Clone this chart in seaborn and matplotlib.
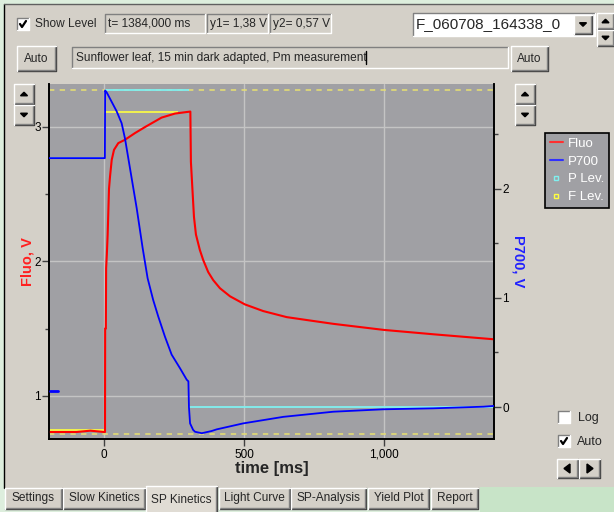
import matplotlib
matplotlib.use("Agg")
import matplotlib.pyplot as plt
import numpy as np
import pandas as pd
import seaborn as sns
from matplotlib.patches import Rectangle, Polygon
from matplotlib.lines import Line2D
from matplotlib.ticker import FixedLocator, FuncFormatter

# ---------------------------------------------------------------- data
# Chlorophyll fluorescence signal (left axis, V)
fluo_t = [-198, -150, -100, -50, 0, 2.5, 3, 5.5, 6.5, 9, 12, 16.8, 20.4, 26.5,
          34.7, 50, 74, 110, 146, 205, 253, 308, 310, 314, 321, 328, 342, 354,
          372, 390, 414, 450, 503, 569, 653, 736, 820, 1000, 1180, 1395]
fluo_v = [0.73, 0.73, 0.73, 0.74, 0.73, 0.73, 1.50, 1.50, 1.95, 2.05, 2.20,
          2.54, 2.63, 2.755, 2.83, 2.88, 2.905, 2.955, 3.00, 3.07, 3.10, 3.115,
          2.74, 2.59, 2.33, 2.20, 2.085, 2.01, 1.92, 1.86, 1.80, 1.74, 1.68,
          1.63, 1.585, 1.56, 1.535, 1.49, 1.457, 1.42]

# P700 absorbance signal (right axis, V)
p700_t = [-198, -100, 0, 2, 3, 9, 44, 62, 74, 95, 116, 137, 155, 175, 193,
          217, 241, 271, 295, 301, 303, 307, 318, 325, 349, 384, 402, 497,
          641, 820, 998, 1177, 1357, 1395]
p700_v = [2.28, 2.28, 2.28, 2.28, 2.90, 2.88, 2.71, 2.60, 2.46, 2.14, 1.82,
          1.46, 1.18, 0.98, 0.83, 0.645, 0.48, 0.355, 0.25, 0.235, 0.0, -0.15,
          -0.21, -0.227, -0.24, -0.22, -0.205, -0.15, -0.09, -0.043, -0.021,
          -0.012, 0.003, 0.01]
# first samples of the P700 record
p700_head_t = [-195, -165]
p700_head_v = [0.15, 0.15]

# P levels (P700 baseline, Pm, P0) and F levels (Fo, Fm)
p_lev_start = [-198, 3, 304]
p_lev_end = [0, 304, 1395]
p_lev_v = [2.28, 2.90, 0.0]
f_lev_start = [-198, 0]
f_lev_end = [0, 263]
f_lev_v = [0.745, 3.11]

# level cursors (left axis)
cursor_v = [3.276, 0.715]

x_ticks = [0, 500, 1000]
fluo_ticks = [1, 2, 3]
p700_ticks = [0, 1, 2]

W, H = 614, 512
PANEL = "#D4D0C8"
PLOT_BG = "#A0A0A4"
UI_FS = 8.6

sns.set_style("ticks")
plt.rcParams["font.family"] = ["Liberation Sans", "DejaVu Sans"]

fig = plt.figure(figsize=(W / 100, H / 100), dpi=100)
fig.patch.set_facecolor("#DDEEDD")

# ---------------------------------------------------------------- window chrome
ui = fig.add_axes([0, 0, 1, 1], zorder=0)
ui.set_xlim(0, W)
ui.set_ylim(H, 0)
ui.axis("off")


def rect(x, y, w, h, fc, ec="none", lw=1.0, z=1):
    ui.add_patch(Rectangle((x, y), w, h, facecolor=fc, edgecolor=ec, lw=lw, zorder=z))


def raised(x, y, w, h, fc=PANEL):
    rect(x, y, w, h, fc)
    ui.plot([x, x + w, x + w], [y + h, y + h, y], color="#404040", lw=1, zorder=2)
    ui.plot([x + 1, x + w - 1, x + w - 1], [y + h - 1, y + h - 1, y + 1], color="#808080", lw=1, zorder=2)
    ui.plot([x, x, x + w], [y + h, y, y], color="white", lw=1, zorder=2)


def sunken(x, y, w, h, fc=PANEL):
    rect(x, y, w, h, fc)
    ui.plot([x, x, x + w], [y + h, y, y], color="#808080", lw=1, zorder=2)
    ui.plot([x, x + w, x + w], [y + h, y + h, y], color="white", lw=1, zorder=2)


def label(x, y, s, size=UI_FS, ha="left", **kw):
    ui.text(x, y, s, fontsize=size, ha=ha, va="center", zorder=3, **kw)


def checkbox(x, y, checked):
    sunken(x, y, 12, 12, "white")
    if checked:
        ui.plot([x + 3, x + 5, x + 9], [y + 6, y + 9, y + 3], color="black", lw=1.6, zorder=3)


def tri(cx, cy, up=True, s=3.5):
    d = -1 if up else 1
    ui.add_patch(Polygon([[cx - s, cy - d * s / 2], [cx + s, cy - d * s / 2], [cx, cy + d * s / 2]],
                         closed=True, color="black", zorder=3))


def spin(x, y, w, h):
    raised(x, y, w, h)
    tri(x + w / 2, y + h / 2, up=True)
    raised(x, y + h + 1, w, h)
    tri(x + w / 2, y + h + 1 + h / 2, up=False)


# main panel
rect(4, 4, W, 484, PANEL)
ui.plot([4, 4], [488, 4], color="black", lw=1, zorder=2)
ui.plot([4, W], [4, 4], color="#606060", lw=1, zorder=2)

# header controls
checkbox(17, 18, True)
label(35, 24, "Show Level")
sunken(105, 14, 100, 19)
label(108, 23.5, "t= 1384,000 ms")
sunken(207, 14, 61, 19)
label(210, 23.5, "y1= 1,38 V")
sunken(270, 14, 61, 19)
label(273, 23.5, "y2= 0,57 V")
sunken(413, 13, 182, 23, "white")
label(416, 24.5, "F_060708_164338_0", size=11)
raised(574, 15, 18, 19)
tri(583, 24.5, up=False)
spin(597, 13, 17, 16)

raised(17, 46, 39, 25)
label(36.5, 58.5, "Auto", ha="center")
sunken(72, 47, 436, 21)
label(76, 57.5, "Sunflower leaf, 15 min dark adapted, Pm measurement")
ui.plot([366, 366], [51, 64], color="black", lw=1, zorder=3)
raised(511, 46, 37, 25)
label(529.5, 58.5, "Auto", ha="center")

# axis scaling buttons
spin(14, 84, 20, 20)
spin(515, 84, 20, 20)

# lower right controls
checkbox(558, 411, False)
label(578, 418, "Log", size=9)
checkbox(558, 435, True)
label(577, 442, "Auto", size=9)
raised(557, 459, 21, 19)
raised(579, 459, 21, 19)
ui.add_patch(Polygon([[564, 468.5], [570, 464], [570, 473]], closed=True, color="black", zorder=3))
ui.add_patch(Polygon([[593, 468.5], [587, 464], [587, 473]], closed=True, color="black", zorder=3))

# tab strip
rect(480, 487, W - 480, H - 487, "#C8E4C8")
tabs = [("Settings", 5, 62), ("Slow Kinetics", 63, 145), ("SP Kinetics", 146, 217),
        ("Light Curve", 219, 290), ("SP-Analysis", 291, 366), ("Yield Plot", 368, 429),
        ("Report", 431, 478)]
for name, x0, x1 in tabs:
    if name == "SP Kinetics":
        raised(x0, 486, x1 - x0, 30, "#E0DCD4")
        label((x0 + x1) / 2, 500, name, ha="center")
    else:
        raised(x0, 488, x1 - x0, 21)
        label((x0 + x1) / 2, 498, name, ha="center")

# ---------------------------------------------------------------- plot
ax = fig.add_axes([49 / W, (H - 439) / H, 445 / W, 355 / H], zorder=1)
ax.set_facecolor(PLOT_BG)
ax2 = ax.twinx()
ax2.set_zorder(2)
ax2.patch.set_visible(False)

fluo = pd.DataFrame({"t": fluo_t, "v": fluo_v})
p700 = pd.DataFrame({"t": p700_t, "v": p700_v})
head = pd.DataFrame({"t": p700_head_t, "v": p700_head_v})

ax.grid(True, axis="both", which="major", color="#C4C4C4", lw=1)
ax.set_axisbelow(True)
for v in cursor_v:
    ax.axhline(v, color="#E8E070", lw=1.1, ls=(0, (3.5, 3.5)), zorder=2)
ax.hlines(f_lev_v, f_lev_start, f_lev_end, colors="#FFFF40", lw=1.2, zorder=2)
sns.lineplot(data=fluo, x="t", y="v", ax=ax, color="#FF0000", lw=1.5,
             estimator=None, sort=False, zorder=3)

ax2.hlines(p_lev_v, p_lev_start, p_lev_end, colors="#80F0F0", lw=1.3, zorder=2)
sns.lineplot(data=p700, x="t", y="v", ax=ax2, color="#0000FF", lw=1.3,
             estimator=None, sort=False, zorder=3)
sns.lineplot(data=head, x="t", y="v", ax=ax2, color="#0000FF", lw=2,
             estimator=None, sort=False, zorder=3)

ax.set_xlim(-198, 1395)
ax.set_ylim(0.678, 3.32)
ax2.set_ylim(-0.293, 2.959)

ax.xaxis.set_major_locator(FixedLocator(x_ticks))
ax.xaxis.set_major_formatter(FuncFormatter(lambda x, p: f"{x:,.0f}"))
ax.yaxis.set_major_locator(FixedLocator(fluo_ticks))
ax.yaxis.set_minor_locator(FixedLocator([1.5, 2.5]))
ax2.yaxis.set_major_locator(FixedLocator(p700_ticks))
ax2.yaxis.set_minor_locator(FixedLocator([0.5, 1.5, 2.5]))
ax.yaxis.set_major_formatter(FuncFormatter(lambda x, p: f"{x:.0f}"))
ax2.yaxis.set_major_formatter(FuncFormatter(lambda x, p: f"{x:.0f}"))

for a in (ax, ax2):
    a.tick_params(which="major", length=5, width=1, color="#404040",
                  labelsize=8.5, pad=1, labelcolor="black")
    a.tick_params(which="minor", length=3, width=1, color="#404040")
    for s in a.spines.values():
        s.set_color("black")
        s.set_linewidth(1.2)
    a.spines["top"].set_visible(False)
ax.tick_params(axis="x", pad=2)

ax.set_xlabel("time [ms]", fontsize=12, fontweight="bold", labelpad=0)
ax.set_ylabel("Fluo, V", fontsize=10.5, fontweight="bold", color="#FF2020", labelpad=0)
ax2.set_ylabel("P700, V", fontsize=10.5, fontweight="bold", color="#2020FF",
               rotation=270, va="bottom", labelpad=1.5)

# legend
handles = [Line2D([], [], color="#FF3030", lw=1.5),
           Line2D([], [], color="#3030FF", lw=1.5),
           Line2D([], [], ls="none", marker="s", ms=3, mfc=PLOT_BG, mec="#80F0F0"),
           Line2D([], [], ls="none", marker="s", ms=3, mfc=PLOT_BG, mec="#FFFF40")]
leg = fig.legend(handles, ["Fluo", "P700", "P Lev.", "F Lev."],
                 loc="upper left", bbox_to_anchor=(545 / W, 1 - 133 / H),
                 frameon=True, fancybox=False, framealpha=1, facecolor=PLOT_BG,
                 edgecolor="black", labelcolor="white", fontsize=9.5,
                 handlelength=1.0, handletextpad=0.4, labelspacing=0.42,
                 borderpad=0.35, borderaxespad=0)
leg.get_frame().set_linewidth(1.2)
leg.set_zorder(5)

fig.savefig("out.png", dpi=100, facecolor=fig.get_facecolor())
